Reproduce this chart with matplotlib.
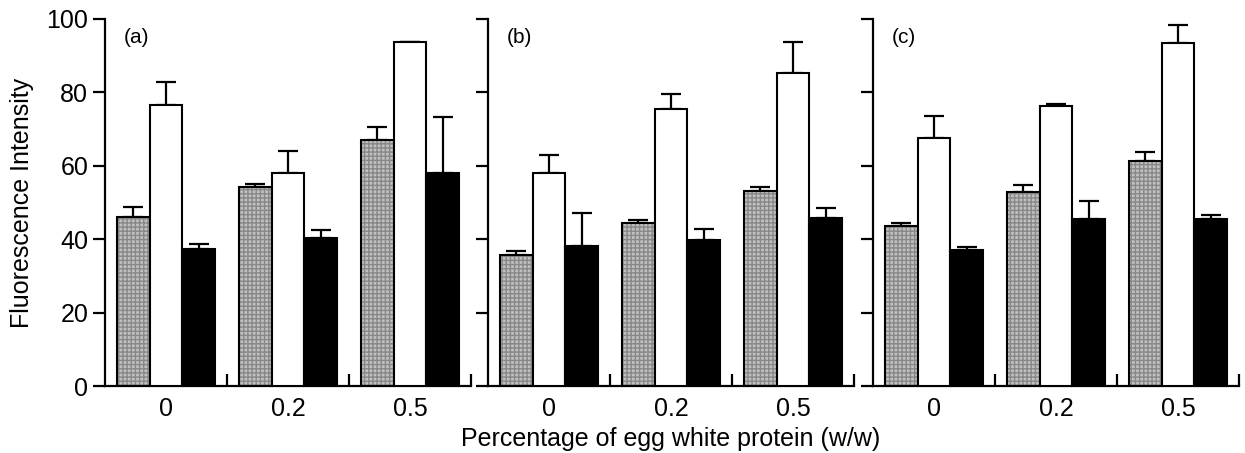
import matplotlib
matplotlib.use("Agg")
import matplotlib.pyplot as plt
import numpy as np

plt.rcParams['font.family'] = ['Liberation Sans', 'DejaVu Sans']

categories = ["0", "0.2", "0.5"]
panel_labels = ["(a)", "(b)", "(c)"]

# values per panel: [gray, white, black] series, each over categories
gray_vals = [[46.1, 54.1, 66.9], [35.7, 44.3, 53.1], [43.6, 52.8, 61.3]]
gray_err = [[2.6, 1.0, 3.8], [1.1, 0.9, 1.1], [0.9, 1.9, 2.5]]
white_vals = [[76.7, 58.0, 93.7], [58.0, 75.4, 85.2], [67.7, 76.4, 93.5]]
white_err = [[6.0, 6.0, 0.0], [5.0, 4.1, 8.4], [5.8, 0.5, 5.0]]
black_vals = [[37.2, 40.2, 58.0], [38.1, 39.8, 45.9], [37.0, 45.4, 45.4]]
black_err = [[1.4, 2.2, 15.3], [9.1, 2.9, 2.7], [1.0, 5.0, 1.2]]

fig = plt.figure(figsize=(12.45, 4.53), dpi=100)
W, H = 1245, 453
lefts = [105, 488, 873]
width_px = 366
bottom_px = 386
top_px = 19

bw = 0.27
lw = 1.5
x = np.arange(len(categories))

axes = []
for i in range(3):
    ax = fig.add_axes([lefts[i] / W, (H - bottom_px) / H, width_px / W, (bottom_px - top_px) / H])
    axes.append(ax)
    series = [
        (gray_vals[i], gray_err[i], -bw, 'gray'),
        (white_vals[i], white_err[i], 0.0, 'white'),
        (black_vals[i], black_err[i], bw, 'black'),
    ]
    for vals, errs, off, kind in series:
        pos = x + off
        if kind == 'gray':
            ax.bar(pos, vals, bw, color='#c0c0c0', edgecolor='#888888', hatch='++++', linewidth=0, zorder=2)
            ax.bar(pos, vals, bw, fill=False, edgecolor='black', linewidth=lw, zorder=3)
        elif kind == 'white':
            ax.bar(pos, vals, bw, color='white', edgecolor='black', linewidth=lw, zorder=3)
        else:
            ax.bar(pos, vals, bw, color='black', edgecolor='black', linewidth=lw, zorder=3)
        ax.errorbar(pos, vals, yerr=[np.zeros(len(vals)), errs], fmt='none', ecolor='black',
                    elinewidth=1.6, capsize=7.5, capthick=1.6, zorder=1)

    ax.set_xlim(-0.5, 2.5)
    ax.set_ylim(0, 100)
    ax.spines['top'].set_visible(False)
    ax.spines['right'].set_visible(False)
    ax.spines['left'].set_linewidth(1.6)
    ax.spines['bottom'].set_linewidth(1.6)
    ax.set_yticks([0, 20, 40, 60, 80, 100])
    ax.tick_params(axis='y', direction='out', length=9, width=1.6, labelsize=18, pad=3)
    if i > 0:
        ax.set_yticklabels([])
    ax.set_xticks(x)
    ax.set_xticklabels(categories)
    ax.tick_params(axis='x', which='major', length=0, labelsize=18, pad=8)
    ax.set_xticks([0.5, 1.5, 2.5], minor=True)
    ax.tick_params(axis='x', which='minor', direction='in', length=9, width=1.6)
    ax.text(0.05, 0.975, panel_labels[i], transform=ax.transAxes, fontsize=15, va='top', ha='left')

axes[0].set_ylabel('Fluorescence Intensity', fontsize=18, labelpad=9)
axes[1].set_xlabel('Percentage of egg white protein (w/w)', fontsize=18, labelpad=4)

fig.savefig('out.png', dpi=100)
